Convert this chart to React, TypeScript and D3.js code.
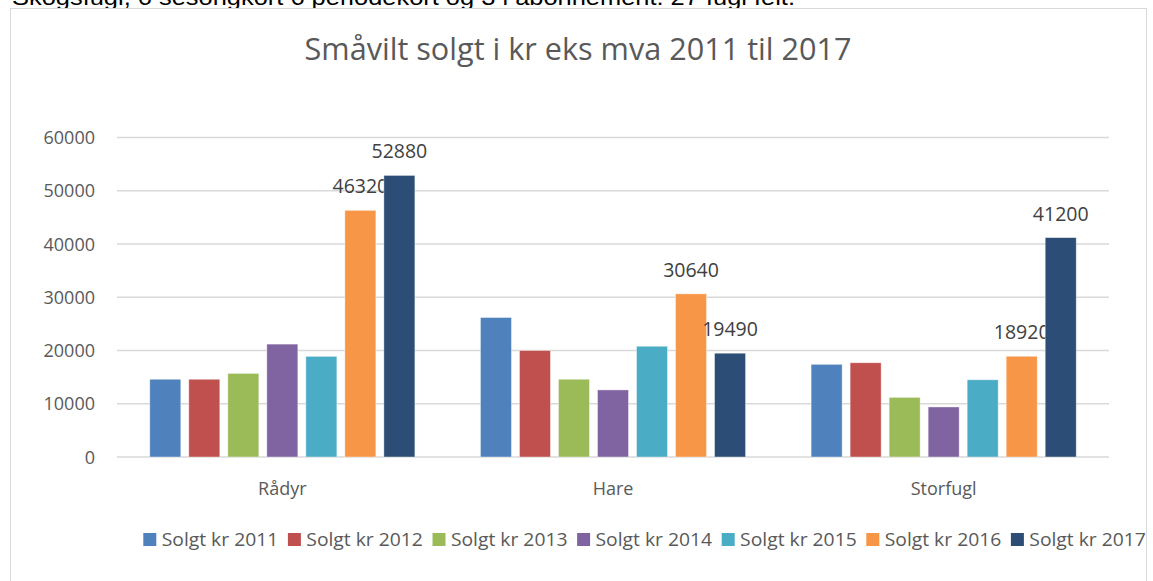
import React from "react";
import * as d3 from "d3";

const categories = ["Rådyr", "Hare", "Storfugl"];
const seriesNames = [
  "Solgt kr 2011",
  "Solgt kr 2012",
  "Solgt kr 2013",
  "Solgt kr 2014",
  "Solgt kr 2015",
  "Solgt kr 2016",
  "Solgt kr 2017",
];
const seriesColors = ["#4f81bd", "#c0504d", "#9bbb59", "#8064a2", "#4bacc6", "#f79646", "#2c4d75"];
const values2011 = [14600, 26200, 17400];
const values2012 = [14600, 20000, 17700];
const values2013 = [15700, 14600, 11200];
const values2014 = [21200, 12600, 9400];
const values2015 = [18900, 20800, 14500];
const values2016 = [46320, 30640, 18920];
const values2017 = [52880, 19490, 41200];
const seriesValues = [values2011, values2012, values2013, values2014, values2015, values2016, values2017];
const labelledSeries = [5, 6];
const yTicks = [0, 10000, 20000, 30000, 40000, 50000, 60000];
const title = "Småvilt solgt i kr eks mva 2011 til 2017";
const topText = "Skogsfugl, 6 sesongkort 6 periodekort og 3 i abonnement. 27 fugl felt.";

const W = 1153;
const H = 581;
const plot = { left: 117, right: 1109, top: 137.5, bottom: 457 };

export default function App() {
  const x0 = d3.scaleBand<string>().domain(categories).range([plot.left, plot.right]).padding(0);
  const x1 = d3
    .scaleBand<string>()
    .domain(seriesNames)
    .range([0, x0.bandwidth()])
    .paddingInner(0.205)
    .paddingOuter(0.84);
  const y = d3.scaleLinear().domain([0, 60000]).range([plot.bottom, plot.top]);

  const font = "'Open Sans', sans-serif";
  const legendStart = 143.3;
  const legendStep = 144.6;

  return (
    <svg
      width={W}
      height={H}
      style={{ position: "absolute", left: 0, top: 0, background: "#fff" }}
    >
      <text x={12} y={5} fontFamily="'Liberation Sans', Arial, sans-serif" fontSize={22} fill="#000" textLength={783} lengthAdjust="spacingAndGlyphs">
        {topText}
      </text>
      <rect x={10.5} y={8.5} width={1136} height={600} fill="#fff" stroke="#d9d9d9" strokeWidth={1} />
      <text
        x={578}
        y={60}
        textAnchor="middle"
        fontFamily={font}
        fontSize={31}
        fill="#595959"
        textLength={547}
        lengthAdjust="spacingAndGlyphs"
      >
        {title}
      </text>
      {yTicks.map((t) => (
        <g key={t}>
          <line x1={plot.left} x2={plot.right} y1={y(t)} y2={y(t)} stroke="#d9d9d9" strokeWidth={1.3} />
          <text x={95} y={y(t) + 6.5} textAnchor="end" fontFamily={font} fontSize={18} fill="#595959">
            {t}
          </text>
        </g>
      ))}
      {categories.map((c, ci) => (
        <g key={c}>
          {seriesNames.map((s, si) => {
            const v = seriesValues[si][ci];
            const bx = (x0(c) as number) + (x1(s) as number);
            const bw = x1.bandwidth();
            return (
              <g key={s}>
                <rect x={bx} y={y(v)} width={bw} height={y(0) - y(v)} fill={seriesColors[si]} stroke="#fff" strokeOpacity={0.5} strokeWidth={0.8} />
                {labelledSeries.includes(si) && (
                  <text x={bx + bw / 2} y={y(v) - 17} textAnchor="middle" fontFamily={font} fontSize={19.5} fill="#404040">
                    {v}
                  </text>
                )}
              </g>
            );
          })}
          <text
            x={(x0(c) as number) + x0.bandwidth() / 2}
            y={495}
            textAnchor="middle"
            fontFamily={font}
            fontSize={18}
            fill="#595959"
          >
            {c}
          </text>
        </g>
      ))}
      {seriesNames.map((s, si) => (
        <g key={s}>
          <rect x={legendStart + si * legendStep} y={533} width={13} height={13} fill={seriesColors[si]} />
          <text
            x={legendStart + si * legendStep + 18.4}
            y={546}
            fontFamily={font}
            fontSize={18}
            fill="#595959"
            textLength={116.6}
            lengthAdjust="spacingAndGlyphs"
          >
            {s}
          </text>
        </g>
      ))}
    </svg>
  );
}
